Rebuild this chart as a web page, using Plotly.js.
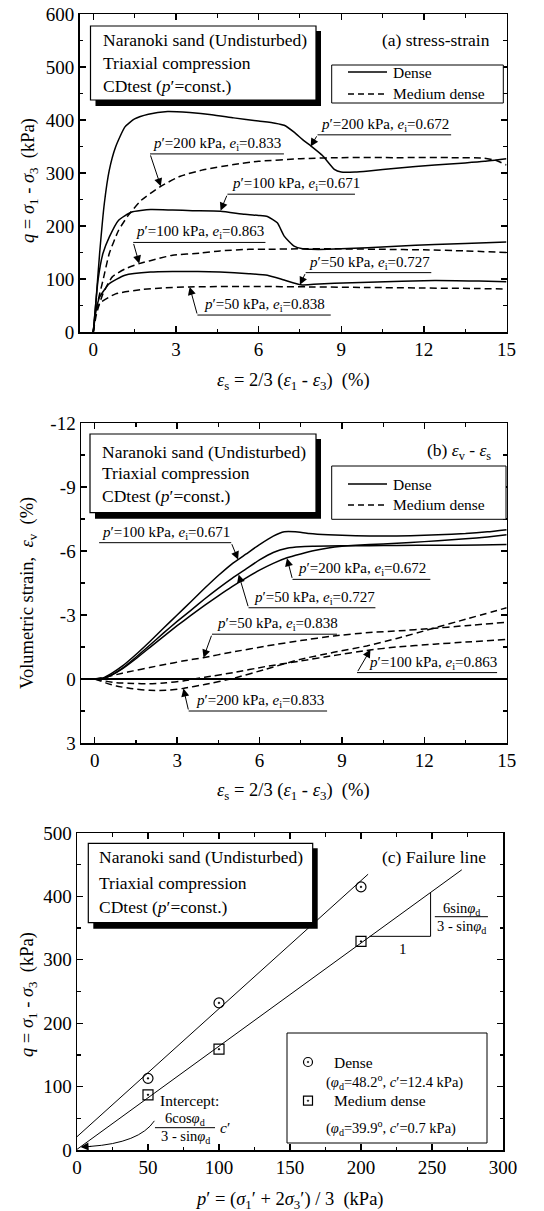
<!DOCTYPE html>
<html><head><meta charset="utf-8">
<script src="https://cdn.plot.ly/plotly-3.0.1.min.js"></script>
<style>html,body{margin:0;padding:0;background:#fff}#chart{width:544px;height:1211px}</style>
</head><body><div id="chart"></div>
<script>
// ---------------- DATA ----------------
// (a) deviator stress q (kPa) vs shear strain eps_s (%)
const aDense200X = [0, 0.1, 0.23, 0.4, 0.58, 0.81, 1.15, 1.5, 2.0, 2.7, 3.5, 4.3, 5.1, 6.0, 6.6, 6.93, 7.29, 7.6, 7.9, 8.32, 8.75, 9.0, 9.5, 10.0, 11.0, 12.4, 13.5, 14.2, 15.0];
const aDense200Q = [0, 60, 148, 242, 305, 349, 387, 402, 411, 416, 414, 410, 404, 398, 394, 390, 377, 363, 351, 333, 307, 302, 302, 304, 309, 315, 319, 322, 327];
const aDense100X = [0, 0.06, 0.17, 0.35, 0.58, 0.92, 1.38, 2.08, 2.88, 3.6, 4.62, 5.5, 6.0, 6.32, 6.68, 6.93, 7.29, 7.6, 7.9, 8.5, 9.96, 11.0, 12.4, 13.5, 15.0];
const aDense100Q = [0, 35, 97, 148, 179, 211, 226, 231, 230, 229, 228, 222, 220, 218, 206, 181, 162, 157, 156, 156, 159, 162, 165, 167, 170];
const aDense50X  = [0, 0.1, 0.23, 0.58, 1.15, 2.08, 2.88, 3.8, 4.6, 5.65, 6.32, 6.93, 7.53, 8.0, 8.75, 10.0, 12.4, 14.0, 15.0];
const aDense50Q  = [0, 40, 66, 91, 107, 113, 114, 114, 113, 110, 107, 98, 89, 90, 92, 94, 97, 96, 95];
const aMed200X = [0, 0.12, 0.35, 0.58, 0.92, 1.27, 1.73, 2.42, 3.16, 4.0, 5.1, 6.0, 7.53, 9.0, 11.0, 13.0, 14.2, 14.6, 15.0];
const aMed200Q = [0, 47, 97, 148, 192, 220, 248, 274, 294, 306, 316, 322, 327, 329, 329, 329, 328, 324, 315];
const aMed100X = [0, 0.12, 0.35, 0.69, 1.15, 1.67, 2.4, 2.88, 3.9, 4.6, 5.65, 6.32, 7.5, 8.75, 10.5, 12.0, 13.5, 15.0];
const aMed100Q = [0, 35, 72, 104, 119, 129, 139, 145, 149, 153, 156, 156, 157, 157, 156, 155, 153, 150];
const aMed50X  = [0, 0.1, 0.25, 0.81, 1.73, 2.5, 3.46, 5.65, 8.0, 10.0, 12.0, 14.0, 15.0];
const aMed50Q  = [0, 40, 55, 72, 80, 83, 85, 86, 85, 84, 83, 82, 81];

// (b) volumetric strain eps_v (%) vs eps_s (%)
const bDense100X = [0, 0.3, 0.6, 1.0, 1.5, 2.0, 2.5, 3.0, 3.5, 4.0, 4.5, 5.0, 5.5, 6.0, 6.5, 6.9, 7.3, 7.8, 8.5, 9.5, 10.5, 11.5, 12.5, 13.5, 14.3, 15.0];
const bDense100V = [0, -0.05, -0.25, -0.6, -1.15, -1.75, -2.38, -3.0, -3.62, -4.25, -4.85, -5.4, -5.85, -6.3, -6.7, -6.9, -6.9, -6.82, -6.76, -6.72, -6.7, -6.72, -6.76, -6.82, -6.9, -7.0];
const bDense50X  = [0, 0.3, 0.6, 1.0, 1.5, 2.0, 2.5, 3.0, 3.5, 4.0, 4.5, 5.0, 5.5, 6.0, 6.5, 7.0, 7.5, 8.0, 9.0, 10.0, 11.0, 12.5, 14.0, 15.0];
const bDense50V  = [0, -0.03, -0.18, -0.5, -1.02, -1.58, -2.15, -2.7, -3.22, -3.75, -4.25, -4.72, -5.15, -5.58, -5.93, -6.13, -6.2, -6.22, -6.25, -6.25, -6.26, -6.27, -6.28, -6.3];
const bDense200X = [0, 0.3, 0.6, 1.0, 1.5, 2.0, 2.5, 3.0, 3.5, 4.0, 4.5, 5.0, 5.5, 6.0, 6.5, 7.0, 7.5, 8.0, 8.5, 9.0, 9.5, 10.5, 11.5, 12.5, 13.5, 14.3, 15.0];
const bDense200V = [0, -0.03, -0.17, -0.47, -0.95, -1.47, -1.99, -2.5, -2.98, -3.45, -3.9, -4.33, -4.73, -5.1, -5.42, -5.68, -5.86, -6.02, -6.14, -6.22, -6.27, -6.33, -6.4, -6.48, -6.57, -6.66, -6.76];
const bMed50X  = [0, 0.5, 1.0, 1.4, 2.0, 2.6, 3.2, 3.95, 5.0, 6.27, 7.5, 8.7, 10.0, 11.1, 12.2, 13.5, 15.0];
const bMed50V  = [0, -0.12, -0.27, -0.38, -0.54, -0.69, -0.84, -1.0, -1.26, -1.55, -1.8, -2.02, -2.18, -2.26, -2.36, -2.5, -2.66];
const bMed100X = [0, 0.4, 0.79, 1.4, 2.0, 2.6, 3.22, 4.0, 5.05, 6.2, 7.48, 8.7, 9.9, 11.0, 12.35, 13.5, 15.0];
const bMed100V = [0, 0.1, 0.17, 0.21, 0.22, 0.18, 0.09, -0.08, -0.3, -0.58, -0.84, -1.1, -1.34, -1.5, -1.63, -1.73, -1.86];
const bMed200X = [0, 0.4, 0.79, 1.4, 2.0, 2.6, 3.22, 4.0, 5.05, 6.2, 7.48, 8.7, 9.9, 11.0, 12.2, 13.5, 15.0];
const bMed200V = [0, 0.18, 0.33, 0.46, 0.53, 0.53, 0.44, 0.26, -0.03, -0.45, -0.92, -1.25, -1.55, -1.9, -2.33, -2.8, -3.34];

// (c) failure points and fitted lines
const cP = [50, 100, 200];
const cDenseQ = [113, 232, 415];
const cMedQ = [87, 159, 329];
const cDenseLineX = [0, 205];
const cDenseLineQ = [21, 435];
const cMedLineX = [0, 271];
const cMedLineQ = [1, 442];

// tick labels
const abXTicks = [0, 3, 6, 9, 12, 15];
const aYTicks = [0, 100, 200, 300, 400, 500, 600];
const bYTicks = [-12, -9, -6, -3, 0, 3];
const bYTickText = ['-12', '-9', '-6', '-3', '0', '3'];
const cXTicks = [0, 50, 100, 150, 200, 250, 300];
const cYTicks = [0, 100, 200, 300, 400, 500];

// texts
const boxLines = ['Naranoki sand (Undisturbed)', 'Triaxial compression', 'CDtest (<i>p</i>\u2032=const.)'];
const legendNames = ['Dense', 'Medium dense'];
const cLegendSub = ['(<i>\u03c6</i><sub>d</sub>=48.2<sup>o</sup>, <i>c</i>\u2032=12.4 kPa)', '(<i>\u03c6</i><sub>d</sub>=39.9<sup>o</sup>, <i>c</i>\u2032=0.7 kPa)'];
const lbl = (p, e) => '<i>p</i>\u2032=' + p + ' kPa, <i>e</i><sub>i</sub>=' + e;

// ---------------- LAYOUT HELPERS ----------------
const W = 544, H = 1211;
const FONT = '"Liberation Serif", "Times New Roman", Times, serif';
const shapes = [], annotations = [];
const DASH = '7px,4px';

function ptext(x, y, text, opts) {
  annotations.push(Object.assign({xref: 'paper', yref: 'paper', x: x / W, y: 1 - y / H, text: text,
    showarrow: false, xanchor: 'left', yanchor: 'middle',
    font: {family: FONT, size: 17.5, color: '#000'}}, opts || {}));
}
function prect(x0, y0, x1, y1, fill, lw) {
  shapes.push({type: 'rect', xref: 'paper', yref: 'paper', x0: x0 / W, x1: x1 / W, y0: 1 - y1 / H, y1: 1 - y0 / H,
    fillcolor: fill, line: {color: '#000', width: lw}});
}
function pline(x0, y0, x1, y1, dash, w) {
  shapes.push({type: 'line', xref: 'paper', yref: 'paper', x0: x0 / W, x1: x1 / W, y0: 1 - y0 / H, y1: 1 - y1 / H,
    line: {color: '#000', width: w || 1.5, dash: dash || 'solid'}});
}
function infoBox(x0, y0, x1, y1, ys, tx) {
  prect(x0 + 5, y0 + 5, x1 + 5, y1 + 6, '#000', 0);
  prect(x0, y0, x1, y1, '#fff', 1.2);
  boxLines.forEach((t, i) => ptext(tx, ys[i], t));
}
function lineLegend(x0, y0, x1, y1, yD, yM) {
  prect(x0, y0, x1, y1, '#fff', 1);
  pline(348, yD, 387, yD, 'solid', 1.5);
  pline(348, yM, 387, yM, '6px,4px', 1.5);
  ptext(391, yD, legendNames[0], {font: {family: FONT, size: 15.5, color: '#000'}});
  ptext(391, yM, legendNames[1], {font: {family: FONT, size: 15.5, color: '#000'}});
}
function curveLabel(ax, text, ux0, ux1, uy, tx, tailx, taily, tipx, tipy) {
  const xr = 'x' + ax, yr = 'y' + ax;
  shapes.push({type: 'line', xref: xr, yref: yr, x0: ux0, x1: ux1, y0: uy, y1: uy, line: {color: '#000', width: 1}});
  annotations.push({xref: xr, yref: yr, x: tx, y: uy, text: text, showarrow: false, xanchor: 'left', yanchor: 'bottom',
    yshift: -1, font: {family: FONT, size: 15, color: '#000'}});
  annotations.push({xref: xr, yref: yr, x: tipx, y: tipy, axref: xr, ayref: yr, ax: tailx, ay: taily, text: '',
    showarrow: true, arrowhead: 2, arrowsize: 1.6, arrowwidth: 1, arrowcolor: '#000'});
}

// ---------------- PANEL (a) ----------------
infoBox(90.5, 26, 316, 100, [40, 63, 86], 101);
ptext(492, 40, '(a) stress-strain', {xanchor: 'right'});
lineLegend(331.7, 65, 503.3, 103, 72, 94);
curveLabel('', lbl(200, '0.672'), 8.14, 12.99, 372, 8.2, 8.14, 372, 7.89, 350);
curveLabel('', lbl(200, '0.833'), 2.06, 6.92, 336, 2.1, 2.06, 336, 2.45, 275);
curveLabel('', lbl(100, '0.671'), 4.87, 9.5, 260, 4.95, 4.87, 260, 4.62, 229);
curveLabel('', lbl(100, '0.863'), 1.45, 6.25, 169, 1.48, 1.45, 169, 1.67, 129);
curveLabel('', lbl(50, '0.727'), 7.71, 12.27, 112, 7.75, 7.71, 112, 7.5, 89);
curveLabel('', lbl(50, '0.838'), 3.78, 8.62, 32, 3.95, 3.78, 32, 3.5, 85);
ptext(29, 181, '<i>q</i> = <i>\u03c3</i><sub>1</sub> - <i>\u03c3</i><sub>3</sub>\u00a0\u00a0(kPa)', {textangle: -90, xanchor: 'center', font: {family: FONT, size: 18.5, color: '#000'}});
ptext(293.5, 381.7, '<i>\u03b5</i><sub>s</sub> = 2/3 (<i>\u03b5</i><sub>1</sub> - <i>\u03b5</i><sub>3</sub>)\u00a0\u00a0(%)', {xanchor: 'center', font: {family: FONT, size: 18.5, color: '#000'}});

// ---------------- PANEL (b) ----------------
infoBox(90, 434, 316, 512.7, [451.7, 473.3, 496], 100);
ptext(493, 451.7, '(b) <i>\u03b5</i><sub>v</sub> - <i>\u03b5</i><sub>s</sub>', {xanchor: 'right'});
lineLegend(331.7, 466, 506, 519.3, 484, 505);
curveLabel('2', lbl(100, '0.671'), 0.16, 4.97, -6.39, 0.2, 4.97, -6.39, 5.22, -5.6);
curveLabel('2', lbl(200, '0.672'), 7.2, 12.22, -4.67, 7.34, 7.2, -4.67, 7.0, -5.66);
curveLabel('2', lbl(50, '0.727'), 5.6, 10.22, -3.34, 5.73, 5.6, -3.34, 5.24, -4.9);
curveLabel('2', lbl(50, '0.838'), 4.27, 8.82, -2.1, 4.39, 4.27, -2.1, 3.96, -1.0);
curveLabel('2', lbl(100, '0.863'), 9.55, 14.65, -0.3, 9.9, 9.55, -0.3, 10.04, -1.38);
curveLabel('2', lbl(200, '0.833'), 3.42, 8.46, 1.5, 3.6, 3.42, 1.5, 3.23, 0.45);
ptext(28, 593, 'Volumetric strain,\u00a0\u00a0<i>\u03b5</i><sub>v</sub>\u00a0\u00a0(%)', {textangle: -90, xanchor: 'center', font: {family: FONT, size: 18.5, color: '#000'}});
ptext(293.5, 791.7, '<i>\u03b5</i><sub>s</sub> = 2/3 (<i>\u03b5</i><sub>1</sub> - <i>\u03b5</i><sub>3</sub>)\u00a0\u00a0(%)', {xanchor: 'center', font: {family: FONT, size: 18.5, color: '#000'}});

// ---------------- PANEL (c) ----------------
infoBox(88.3, 843.3, 312.7, 922.7, [857.3, 882.7, 907.3], 96.7);
ptext(488, 857.3, '(c) Failure line', {xanchor: 'right'});
// legend (c)
prect(287, 1033, 487, 1143, '#fff', 1);
shapes.push({type: 'circle', xref: 'paper', yref: 'paper', x0: 303.5 / W, x1: 312.5 / W, y0: 1 - 1066.5 / H, y1: 1 - 1057.5 / H, line: {color: '#000', width: 1.2}});
shapes.push({type: 'circle', xref: 'paper', yref: 'paper', x0: 307.2 / W, x1: 308.8 / W, y0: 1 - 1062.8 / H, y1: 1 - 1061.2 / H, fillcolor: '#000', line: {color: '#000', width: 0.5}});
prect(303.5, 1096.2, 312.5, 1105.2, 'rgba(0,0,0,0)', 1.2);
shapes.push({type: 'circle', xref: 'paper', yref: 'paper', x0: 307.2 / W, x1: 308.8 / W, y0: 1 - 1101.5 / H, y1: 1 - 1099.9 / H, fillcolor: '#000', line: {color: '#000', width: 0.5}});
ptext(331.7, 1062, legendNames[0], {font: {family: FONT, size: 15.5, color: '#000'}});
ptext(324, 1082, cLegendSub[0], {font: {family: FONT, size: 14.5, color: '#000'}});
ptext(331.7, 1100.7, legendNames[1], {font: {family: FONT, size: 15.5, color: '#000'}});
ptext(324, 1127.7, cLegendSub[1], {font: {family: FONT, size: 14.5, color: '#000'}});
// slope triangle
shapes.push({type: 'line', xref: 'x3', yref: 'y3', x0: 206, x1: 249, y0: 337, y1: 337, line: {color: '#000', width: 1}});
shapes.push({type: 'line', xref: 'x3', yref: 'y3', x0: 249, x1: 249, y0: 337, y1: 406, line: {color: '#000', width: 1}});
annotations.push({xref: 'x3', yref: 'y3', x: 229.8, y: 316.6, text: '1', showarrow: false, font: {family: FONT, size: 15, color: '#000'}});
annotations.push({xref: 'x3', yref: 'y3', x: 271, y: 380, text: '6sin<i>\u03c6</i><sub>d</sub>', showarrow: false, font: {family: FONT, size: 14.5, color: '#000'}});
shapes.push({type: 'line', xref: 'x3', yref: 'y3', x0: 252, x1: 289.4, y0: 368, y1: 368, line: {color: '#000', width: 1}});
annotations.push({xref: 'x3', yref: 'y3', x: 271, y: 351, text: '3 - sin<i>\u03c6</i><sub>d</sub>', showarrow: false, font: {family: FONT, size: 14.5, color: '#000'}});
// intercept note
annotations.push({xref: 'x3', yref: 'y3', x: 57.3, y: 77.8, text: 'Intercept:', showarrow: false, xanchor: 'left', font: {family: FONT, size: 15.5, color: '#000'}});
annotations.push({xref: 'x3', yref: 'y3', x: 76.1, y: 48.5, text: '6cos<i>\u03c6</i><sub>d</sub>', showarrow: false, font: {family: FONT, size: 14.5, color: '#000'}});
shapes.push({type: 'line', xref: 'x3', yref: 'y3', x0: 54.9, x1: 97.2, y0: 35.2, y1: 35.2, line: {color: '#000', width: 1}});
annotations.push({xref: 'x3', yref: 'y3', x: 76.1, y: 21, text: '3 - sin<i>\u03c6</i><sub>d</sub>', showarrow: false, font: {family: FONT, size: 14.5, color: '#000'}});
annotations.push({xref: 'x3', yref: 'y3', x: 99.5, y: 35.2, text: '<i>c</i>\u2032', showarrow: false, xanchor: 'left', font: {family: FONT, size: 15.5, color: '#000'}});
shapes.push({type: 'path', xref: 'x3', yref: 'y3', path: 'M 54.5,46 Q 44,11 9,5.6', line: {color: '#000', width: 1}});
annotations.push({xref: 'x3', yref: 'y3', x: 2.5, y: 4.6, axref: 'x3', ayref: 'y3', ax: 11, ay: 5.8, text: '',
  showarrow: true, arrowhead: 2, arrowsize: 1.6, arrowwidth: 1, arrowcolor: '#000'});
ptext(29, 995, '<i>q</i> = <i>\u03c3</i><sub>1</sub> - <i>\u03c3</i><sub>3</sub>\u00a0\u00a0(kPa)', {textangle: -90, xanchor: 'center', font: {family: FONT, size: 18.5, color: '#000'}});
ptext(289, 1200, '<i>p</i>\u2032 = (<i>\u03c3</i><sub>1</sub>\u2032 + 2<i>\u03c3</i><sub>3</sub>\u2032) / 3\u00a0\u00a0(kPa)', {xanchor: 'center', font: {family: FONT, size: 18.5, color: '#000'}});

// ---------------- TRACES ----------------
function ln(x, y, ax, dashed) {
  return {x: x, y: y, xaxis: 'x' + ax, yaxis: 'y' + ax, mode: 'lines', type: 'scatter', showlegend: false,
    hoverinfo: 'skip', line: {color: '#000', width: 1.5, dash: dashed ? DASH : 'solid', shape: 'spline', smoothing: 0.5}};
}
const traces = [
  ln(aDense200X, aDense200Q, '', false), ln(aDense100X, aDense100Q, '', false), ln(aDense50X, aDense50Q, '', false),
  ln(aMed200X, aMed200Q, '', true), ln(aMed100X, aMed100Q, '', true), ln(aMed50X, aMed50Q, '', true),
  ln(bDense100X, bDense100V, '2', false), ln(bDense50X, bDense50V, '2', false), ln(bDense200X, bDense200V, '2', false),
  ln(bMed50X, bMed50V, '2', true), ln(bMed100X, bMed100V, '2', true), ln(bMed200X, bMed200V, '2', true),
  {x: cDenseLineX, y: cDenseLineQ, xaxis: 'x3', yaxis: 'y3', mode: 'lines', type: 'scatter', showlegend: false, line: {color: '#000', width: 1}},
  {x: cMedLineX, y: cMedLineQ, xaxis: 'x3', yaxis: 'y3', mode: 'lines', type: 'scatter', showlegend: false, line: {color: '#000', width: 1}},
  {x: cP, y: cDenseQ, xaxis: 'x3', yaxis: 'y3', mode: 'markers', type: 'scatter', showlegend: false,
    marker: {symbol: 'circle-open-dot', size: 10, color: '#000', line: {width: 1.2, color: '#000'}}},
  {x: cP, y: cMedQ, xaxis: 'x3', yaxis: 'y3', mode: 'markers', type: 'scatter', showlegend: false,
    marker: {symbol: 'square-open-dot', size: 10, color: '#000', line: {width: 1.2, color: '#000'}}}
];

// ---------------- AXES ----------------
function axis(dom, range, tickvals, ticktext, minorD, anchor, extra) {
  return Object.assign({domain: dom, range: range, anchor: anchor, tickmode: 'array', tickvals: tickvals,
    ticktext: ticktext || tickvals.map(String), showline: true, linecolor: '#000', linewidth: 1.5, mirror: 'allticks',
    ticks: 'inside', ticklen: 6, tickwidth: 1.3, tickcolor: '#000', showgrid: false, zeroline: false,
    tickfont: {family: FONT, size: 19, color: '#000'},
    minor: {dtick: minorD, tick0: 0, ticks: 'inside', ticklen: 3.5, tickwidth: 1.2, tickcolor: '#000', showgrid: false}}, extra || {});
}
const layout = {
  width: W, height: H, margin: {l: 0, r: 0, t: 0, b: 0}, paper_bgcolor: '#fff', plot_bgcolor: '#fff',
  font: {family: FONT, color: '#000'}, showlegend: false,
  xaxis:  axis([79.5 / W, 506.5 / W], [-0.5, 15], abXTicks, null, 1.5, 'y'),
  yaxis:  axis([1 - 332 / H, 1 - 14 / H], [0, 600], aYTicks, null, 50, 'x'),
  xaxis2: axis([81 / W, 506.7 / W], [-0.5, 15], abXTicks, null, 1.5, 'y2'),
  yaxis2: axis([1 - 743 / H, 1 - 423 / H], [3, -12], bYTicks, bYTickText, 1.5, 'x2', {zeroline: true, zerolinecolor: '#000', zerolinewidth: 1.5}),
  xaxis3: axis([77 / W, 503 / W], [0, 300], cXTicks, null, 25, 'y3'),
  yaxis3: axis([1 - 1150 / H, 1 - 833 / H], [0, 500], cYTicks, null, 50, 'x3'),
  shapes: shapes, annotations: annotations
};
Plotly.newPlot('chart', traces, layout, {displayModeBar: false, staticPlot: true});
</script>
</body></html>
